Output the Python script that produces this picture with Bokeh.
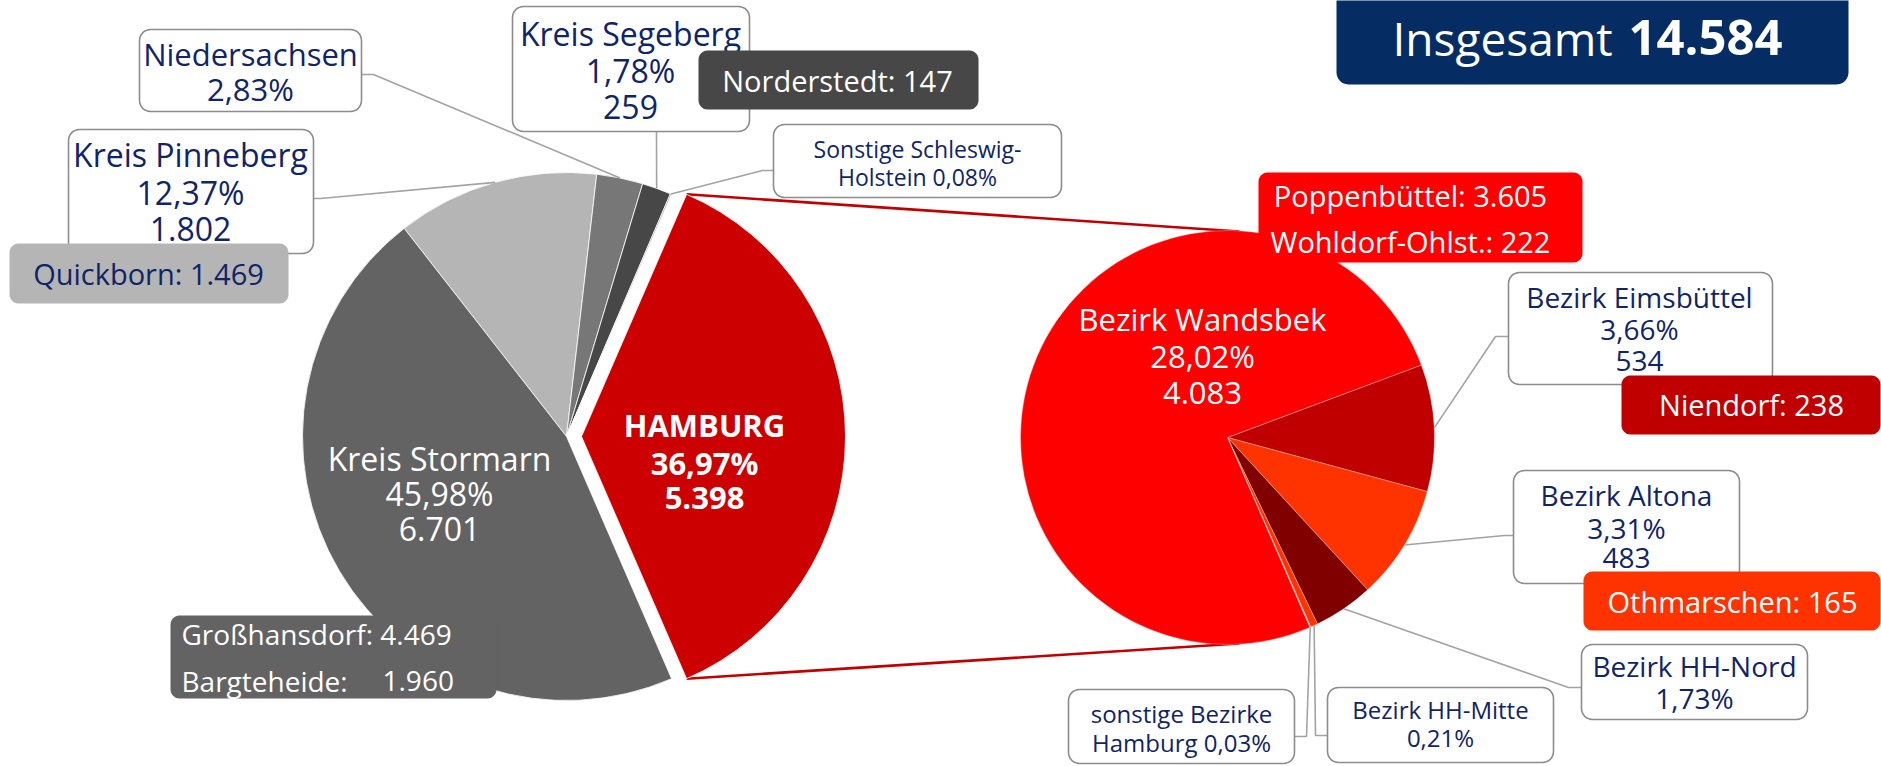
import math
from bokeh.plotting import figure
from bokeh.models import Range1d
from bokeh.core.properties import value
from bokeh.embed import file_html
from bokeh.resources import INLINE

# ---------------- data ----------------
total = 14584
# outer pie, clockwise order
left_names = ["Kreis Pinneberg", "Niedersachsen", "Kreis Segeberg",
              "Sonstige Schleswig-Holstein", "HAMBURG", "Kreis Stormarn"]
left_pct = [12.37, 2.83, 1.78, 0.08, 36.97, 45.98]
left_counts = [1802, None, 259, None, 5398, 6701]
left_colors = ["#b5b5b5", "#777777", "#474747", "#9a9a9a", "#cc0000", "#636363"]

# Hamburg districts, clockwise order
hh_names = ["Bezirk Eimsbüttel", "Bezirk Altona", "Bezirk HH-Nord",
            "Bezirk HH-Mitte", "sonstige Bezirke Hamburg", "Bezirk Wandsbek"]
hh_pct = [3.66, 3.31, 1.73, 0.21, 0.03, 28.02]
hh_counts = [534, 483, None, None, None, 4083]
hh_colors = ["#c00000", "#ff3300", "#800000", "#ff3300", "#a0a0a0", "#ff0000"]

# largest places
place_names = ["Großhansdorf", "Bargteheide", "Quickborn", "Norderstedt",
               "Poppenbüttel", "Wohldorf-Ohlst.", "Niendorf", "Othmarschen"]
place_counts = [4469, 1960, 1469, 147, 3605, 222, 238, 165]

# ---------------- helpers ----------------
W, H = 1881, 766
NAVY = "#102468"
FONT = value("Open Sans")


def de_int(n):
    return f"{n:,}".replace(",", ".")


def de_pct(p):
    return f"{p:.2f}".replace(".", ",") + "%"


def Y(y):
    return H - y


def rrect(x0, y0, x1, y1, r, n=6):
    pts = []
    corners = [(x1 - r, y0 + r, -90, 0), (x1 - r, y1 - r, 0, 90),
               (x0 + r, y1 - r, 90, 180), (x0 + r, y0 + r, 180, 270)]
    for cx, cy, a0, a1 in corners:
        for i in range(n + 1):
            a = math.radians(a0 + (a1 - a0) * i / n)
            pts.append((cx + r * math.cos(a), cy + r * math.sin(a)))
    return [p[0] for p in pts], [Y(p[1]) for p in pts]


def pie_angles(pcts, start):
    k = 360.0 / sum(pcts)
    out = []
    a = start
    for v in pcts:
        out.append((a, a + v * k))
        a += v * k
    return out


def pt(cx, cy, r, theta):
    t = math.radians(theta)
    return cx + r * math.sin(t), cy - r * math.cos(t)


p = figure(width=W, height=H, x_range=Range1d(0, W),
           y_range=Range1d(0, H), output_backend="svg",
           toolbar_location=None, min_border=0,
           x_axis_location=None, y_axis_location=None)
p.grid.visible = False
p.outline_line_color = None
p.background_fill_color = "white"
p.border_fill_color = "white"

# ---------------- geometry ----------------
LCX, LCY, LR = 566, 436, 264
RCX, RCY, RR = 1227, 437, 207
hh_idx = left_names.index("HAMBURG")
k_left = 360.0 / sum(left_pct)
left_start = 90 - (sum(left_pct[:hh_idx]) + left_pct[hh_idx] / 2) * k_left
left_ang = pie_angles(left_pct, left_start)
right_ang = pie_angles(hh_pct, 69.5)
EXPLODE = 15

# red connectors from exploded Hamburg slice to the district pie
hx0 = LCX + EXPLODE
a0, a1 = left_ang[hh_idx]
tx, ty = pt(hx0, LCY, LR, a0)
bx, by = pt(hx0, LCY, LR, a1)
p.line([tx, RCX + 12], [Y(ty), Y(RCY - RR + 1)], line_color="#c00000", line_width=2.6)
p.line([bx, RCX + 12], [Y(by), Y(RCY + RR - 1)], line_color="#c00000", line_width=2.6)

# outer pie
for i, (s, e) in enumerate(left_ang):
    cx = LCX + (EXPLODE if i == hh_idx else 0)
    p.wedge(x=cx, y=Y(LCY), radius=LR,
            start_angle=math.radians(90 - e), end_angle=math.radians(90 - s),
            direction="anticlock", fill_color=left_colors[i],
            line_color="white", line_width=0.8)

# district pie
for i, (s, e) in enumerate(right_ang):
    p.wedge(x=RCX, y=Y(RCY), radius=RR,
            start_angle=math.radians(90 - e), end_angle=math.radians(90 - s),
            direction="anticlock", fill_color=hh_colors[i],
            line_color="white", line_width=0.5, line_alpha=0.6)

# ---------------- leader lines ----------------
def leader(elbow, box_pt, cx, cy, r, ang):
    m = (ang[0] + ang[1]) / 2
    ax, ay = pt(cx, cy, r, m)
    p.line([box_pt[0], elbow[0], ax], [Y(box_pt[1]), Y(elbow[1]), Y(ay)],
           line_color="#a3a3a3", line_width=1.6)

leader((373, 74), (361, 74), LCX, LCY, LR, left_ang[1])
leader((656, 131), (656, 131), LCX, LCY, LR, left_ang[2])
leader((762, 170), (773, 170), LCX, LCY, LR, left_ang[3])
leader((320, 198), (313, 198), LCX, LCY, LR, left_ang[0])
leader((1495, 336), (1508, 336), RCX, RCY, RR, right_ang[0])
leader((1504, 535), (1513, 535), RCX, RCY, RR, right_ang[1])
leader((1568, 687), (1581, 687), RCX, RCY, RR, right_ang[2])
leader((1315, 735), (1327, 735), RCX, RCY, RR, right_ang[3])
leader((1306, 736), (1294, 736), RCX, RCY, RR, right_ang[4])

# ---------------- white label boxes ----------------
def lines_for(names, pcts, counts, i, split=None):
    name = names[i]
    if split:
        a, b = name.split(split, 1)
        return [a + split.rstrip(), b + " " + de_pct(pcts[i])]
    out = [name, de_pct(pcts[i])]
    if counts[i] is not None:
        out.append(de_int(counts[i]))
    return out

white_boxes = [
    # (box, cx, line centres, font size, lines)
    ((139, 29, 361, 111), 250, [53, 88], 31, lines_for(left_names, left_pct, left_counts, 1)),
    ((512, 6, 749, 131), 630, [33, 70, 106], 32, lines_for(left_names, left_pct, left_counts, 2)),
    ((773, 124, 1061, 197), 917, [148, 176], 23, lines_for(left_names, left_pct, left_counts, 3, "Schleswig-")),
    ((68, 129, 313, 253), 190, [154, 192, 228], 32, lines_for(left_names, left_pct, left_counts, 0)),
    ((1508, 272, 1772, 384), 1639, [296, 328, 360], 28, lines_for(hh_names, hh_pct, hh_counts, 0)),
    ((1513, 470, 1739, 583), 1626, [494, 527, 557], 28, lines_for(hh_names, hh_pct, hh_counts, 1)),
    ((1581, 644, 1807, 719), 1694, [665, 697], 28, lines_for(hh_names, hh_pct, hh_counts, 2)),
    ((1327, 687, 1553, 762), 1440, [709, 737], 24, lines_for(hh_names, hh_pct, hh_counts, 3)),
    ((1068, 689, 1294, 763), 1181, [713, 742], 24, lines_for(hh_names, hh_pct, hh_counts, 4, "Bezirke ")),
]


def draw_text(xs, ys_c, texts, size, color, align="center", bold=False):
    p.text(x=xs, y=[Y(y) for y in ys_c], text=texts,
           text_font=FONT, text_font_size=f"{size}px", text_color=color,
           text_align=align, text_baseline="middle",
           text_font_style="bold" if bold else "normal")


for box, cx, ycs, size, lines in white_boxes:
    bxs, bys = rrect(*box, 11)
    p.patch(bxs, bys, fill_color="white", line_color="#8c8c8c", line_width=1.6)
    draw_text([cx] * len(lines), ycs, lines, size, NAVY)

# ---------------- coloured place boxes ----------------
def cbox(box, fill, r=9):
    bxs, bys = rrect(*box, r)
    p.patch(bxs, bys, fill_color=fill, line_color=None)

CS = 29
cbox((698, 50, 978, 109), "#474747")
draw_text([837], [80], [f"{place_names[3]}: {de_int(place_counts[3])}"], CS, "white")

cbox((9, 243, 288, 303), "#b5b5b5")
draw_text([148], [273], [f"{place_names[2]}: {de_int(place_counts[2])}"], CS, NAVY)

cbox((170, 615, 496, 698), "#636363")
draw_text([181], [633], [f"{place_names[0]}: {de_int(place_counts[0])}"], CS - 1, "white", align="left")
draw_text([181], [680], [f"{place_names[1]}:"], CS - 1, "white", align="left")
draw_text([382], [680], [de_int(place_counts[1])], CS - 1, "white", align="left")

cbox((1258, 172, 1582, 262), "#ff0000")
draw_text([1410, 1410], [195, 241],
          [f"{place_names[4]}: {de_int(place_counts[4])}",
           f"{place_names[5]}: {de_int(place_counts[5])}"], CS, "white")

cbox((1621, 375, 1880, 434), "#c00000")
draw_text([1751], [404], [f"{place_names[6]}: {de_int(place_counts[6])}"], CS, "white")

cbox((1583, 571, 1880, 630), "#ff3300")
draw_text([1732], [601], [f"{place_names[7]}: {de_int(place_counts[7])}"], CS, "white")

# ---------------- labels inside the pies ----------------
draw_text([439] * 3, [458, 493, 528],
          [left_names[5], de_pct(left_pct[5]), de_int(left_counts[5])], 32, "white")
draw_text([704] * 3, [424, 462, 497],
          [left_names[4], de_pct(left_pct[4]), de_int(left_counts[4])], 31, "white", bold=True)
draw_text([1202] * 3, [318, 355, 392],
          [hh_names[5], de_pct(hh_pct[5]), de_int(hh_counts[5])], 31, "white")

# ---------------- total box ----------------
cbox((1336, -20, 1848, 84), "#052d63", r=12)
draw_text([1392], [37], ["Insgesamt"], 46, "white", align="left")
draw_text([1628], [37], [de_int(total)], 49, "white", align="left", bold=True)

open("out.html", "w").write(file_html(p, INLINE))
